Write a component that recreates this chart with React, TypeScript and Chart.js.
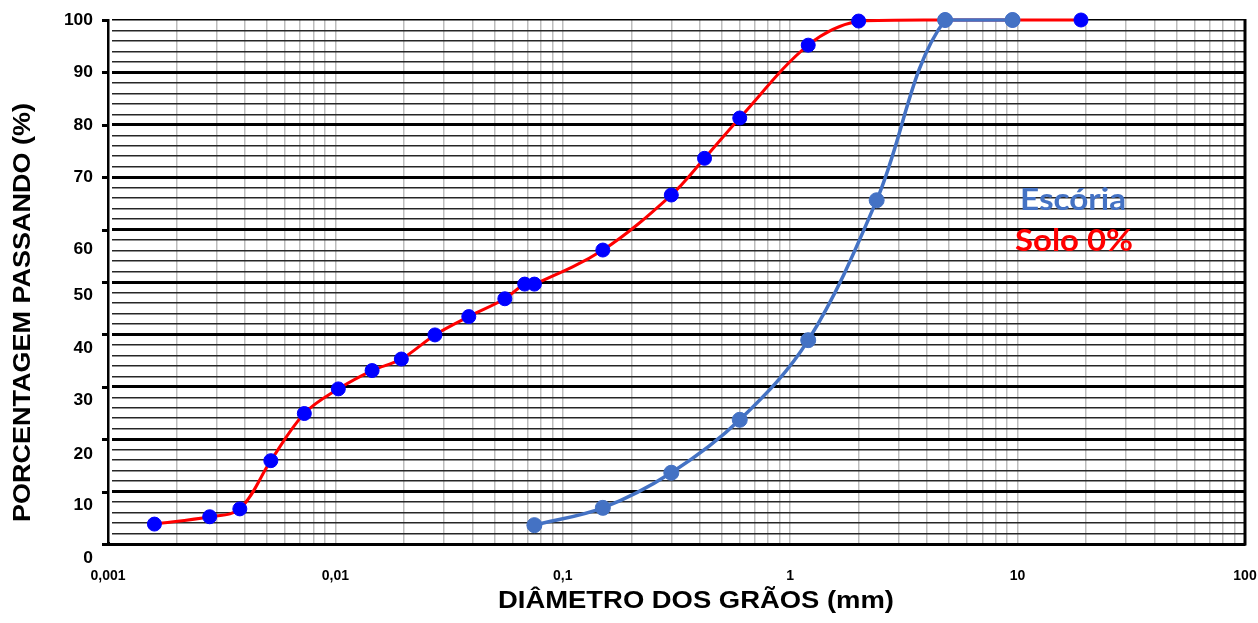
import React, { useEffect, useRef } from 'react';
import { Chart, registerables } from 'chart.js';

Chart.register(...registerables);

// ---- Data ----
const SOLO_DIAMETERS = [0.0016, 0.0028, 0.0038, 0.0052, 0.0073, 0.0103, 0.0145, 0.0195, 0.0274, 0.0386, 0.0556, 0.068, 0.075, 0.15, 0.3, 0.42, 0.6, 1.2, 2.0, 4.8, 9.5, 19];
const SOLO_PASSING = [3.8, 5.2, 6.7, 15.9, 24.9, 29.6, 33.1, 35.3, 39.9, 43.4, 46.8, 49.6, 49.6, 56.1, 66.6, 73.6, 81.3, 95.2, 99.8, 100, 100, 100];

const ESCORIA_DIAMETERS = [0.075, 0.15, 0.3, 0.6, 1.2, 2.4, 4.8, 9.5];
const ESCORIA_PASSING = [3.6, 6.9, 13.6, 23.7, 38.9, 65.6, 100, 100];

const X_TICK_VALUES = [0.001, 0.01, 0.1, 1, 10, 100];
const X_TICK_LABELS = ['0,001', '0,01', '0,1', '1', '10', '100'];
const X_MINOR_MULTIPLIERS = [1, 2, 3, 4, 5, 6, 7, 8, 9];

const Y_TICK_VALUES = [0, 10, 20, 30, 40, 50, 60, 70, 80, 90, 100];
const Y_TICK_LABELS = ['0', '10', '20', '30', '40', '50', '60', '70', '80', '90', '100'];

const SERIES_NAMES = ['Escória', 'Solo 0%'];
const X_TITLE = 'DIÂMETRO DOS GRÃOS (mm)';
const Y_TITLE = 'PORCENTAGEM PASSANDO (%)';

// label shifts (px) of the y tick texts as seen in the reference
const Y_LABEL_SHIFT = [14, 13, 15, 13, 14, 13, 19, 0, 0, 0, 0];

const ARIAL = '"Liberation Sans", Arial, Helvetica, sans-serif';

const X_GRID_VALUES: number[] = (() => {
  const out: number[] = [];
  for (let i = 0; i < X_TICK_VALUES.length - 1; i++) {
    X_MINOR_MULTIPLIERS.forEach((m) => out.push(X_TICK_VALUES[i] * m));
  }
  out.push(X_TICK_VALUES[X_TICK_VALUES.length - 1]);
  return out;
})();

function xLabel(v: number): string {
  const idx = X_TICK_VALUES.findIndex((d) => Math.abs(Math.log10(d) - Math.log10(v)) < 1e-6);
  return idx >= 0 ? X_TICK_LABELS[idx] : '';
}

function drawFitted(
  ctx: CanvasRenderingContext2D,
  text: string,
  cx: number,
  cy: number,
  angle: number,
  font: string,
  color: string,
  targetWidth: number
) {
  ctx.save();
  ctx.font = font;
  ctx.fillStyle = color;
  ctx.textAlign = 'center';
  ctx.textBaseline = 'middle';
  const w = ctx.measureText(text).width;
  ctx.translate(cx, cy);
  ctx.rotate(angle);
  ctx.scale(targetWidth / w, 1);
  ctx.fillText(text, 0, 0);
  ctx.restore();
}

const overlayPlugin = {
  id: 'overlay',
  beforeDatasetsDraw(chart: any) {
    // small white gap between the y axis line and the horizontal grid lines
    const { ctx, chartArea: a } = chart;
    ctx.save();
    ctx.fillStyle = '#fff';
    ctx.fillRect(a.left + 1.5, a.top - 2, 2.5, a.bottom - a.top);
    ctx.restore();
  },
  afterDraw(chart: any) {
    const { ctx, chartArea: a } = chart;
    const y = chart.scales.y;
    ctx.save();
    // right frame line
    ctx.strokeStyle = '#000';
    ctx.lineWidth = 3;
    ctx.beginPath();
    ctx.moveTo(a.right, a.top - 1);
    ctx.lineTo(a.right, a.bottom + 1.5);
    ctx.stroke();
    // major tick marks on y axis
    Y_TICK_VALUES.forEach((v) => {
      const py = Math.round(y.getPixelForValue(v)) + 0.5;
      ctx.beginPath();
      ctx.moveTo(a.left - 6, py);
      ctx.lineTo(a.left, py);
      ctx.stroke();
    });
    // y tick labels
    ctx.fillStyle = '#000';
    ctx.font = `bold 16px ${ARIAL}`;
    ctx.textAlign = 'right';
    ctx.textBaseline = 'middle';
    Y_TICK_VALUES.forEach((v, i) => {
      const py = y.getPixelForValue(v) + Y_LABEL_SHIFT[i];
      ctx.save();
      ctx.translate(93, py + 0.5);
      ctx.scale(1.09, 1);
      ctx.fillText(Y_TICK_LABELS[i], 0, 0);
      ctx.restore();
    });
    // axis titles
    drawFitted(ctx, Y_TITLE, 24, 312.5, -Math.PI / 2, `bold 23px ${ARIAL}`, '#000', 419);
    drawFitted(ctx, X_TITLE, 696, 601.5, 0, `bold 23px ${ARIAL}`, '#000', 396);
    // series labels
    drawFitted(ctx, SERIES_NAMES[0], 1073, 200, 0, 'bold 31px Lato, "Open Sans", sans-serif', '#4472C4', 106);
    drawFitted(ctx, SERIES_NAMES[1], 1074, 241, 0, 'bold 31px Lato, "Open Sans", sans-serif', '#FF0000', 118);
    ctx.restore();
  },
};

export default function App() {
  const ref = useRef<HTMLCanvasElement>(null);

  useEffect(() => {
    const canvas = ref.current;
    if (!canvas) return;
    const chart = new Chart(canvas, {
      type: 'line',
      data: {
        datasets: [
          {
            label: SERIES_NAMES[0],
            data: ESCORIA_DIAMETERS.map((x, i) => ({ x, y: ESCORIA_PASSING[i] })),
            borderColor: '#4472C4',
            backgroundColor: '#4472C4',
            pointBackgroundColor: '#4472C4',
            pointBorderColor: '#4472C4',
            pointBorderWidth: 1,
            pointRadius: 7.5,
            borderWidth: 3.5,
            tension: 0.35,
            fill: false,
            clip: false,
          } as any,
          {
            label: SERIES_NAMES[1],
            data: SOLO_DIAMETERS.map((x, i) => ({ x, y: SOLO_PASSING[i] })),
            borderColor: '#FF0000',
            backgroundColor: '#0000FF',
            pointBackgroundColor: '#0000FF',
            pointBorderColor: '#0000FF',
            pointBorderWidth: 1,
            pointRadius: 7,
            borderWidth: 3,
            tension: 0.35,
            fill: false,
            clip: false,
          } as any,
        ],
      },
      options: {
        responsive: false,
        animation: false,
        devicePixelRatio: 1,
        events: [],
        layout: { padding: { left: 0, right: 13, top: 20, bottom: 0 } },
        plugins: {
          legend: { display: false },
          tooltip: { enabled: false },
        },
        scales: {
          x: {
            type: 'logarithmic',
            min: 0.001,
            max: 100,
            afterBuildTicks: (s: any) => {
              s.ticks = X_GRID_VALUES.map((v) => ({ value: v }));
            },
            afterFit: (s: any) => {
              s.height = 79;
            },
            ticks: {
              autoSkip: false,
              maxRotation: 0,
              minRotation: 0,
              padding: 0,
              color: '#000',
              font: { family: ARIAL, size: 14, weight: 'bold' },
              callback: (v: any) => xLabel(Number(v)),
            },
            grid: {
              color: '#bdbdbd',
              lineWidth: 1.5,
              drawTicks: true,
              tickLength: 24,
              tickColor: 'rgba(0,0,0,0)',
            },
            border: { display: true, color: '#000', width: 3 },
          } as any,
          y: {
            type: 'linear',
            min: 0,
            max: 100,
            afterFit: (s: any) => {
              s.width = 108;
            },
            ticks: { stepSize: 2, display: false },
            grid: {
              drawTicks: false,
              color: (c: any) => (c.tick && c.tick.value % 10 === 0 ? '#000' : '#262626'),
              lineWidth: (c: any) =>
                c.tick && c.tick.value % 10 === 0 && c.tick.value !== 100 ? 3 : 1.5,
            },
            border: { display: true, color: '#000', width: 3 },
          } as any,
        },
      },
      plugins: [overlayPlugin],
    });
    return () => chart.destroy();
  }, []);

  return (
    <div style={{ position: 'fixed', left: 0, top: 0, width: 1258, height: 623, background: '#fff' }}>
      <canvas ref={ref} width={1258} height={623} style={{ display: 'block', width: 1258, height: 623 }} />
    </div>
  );
}
